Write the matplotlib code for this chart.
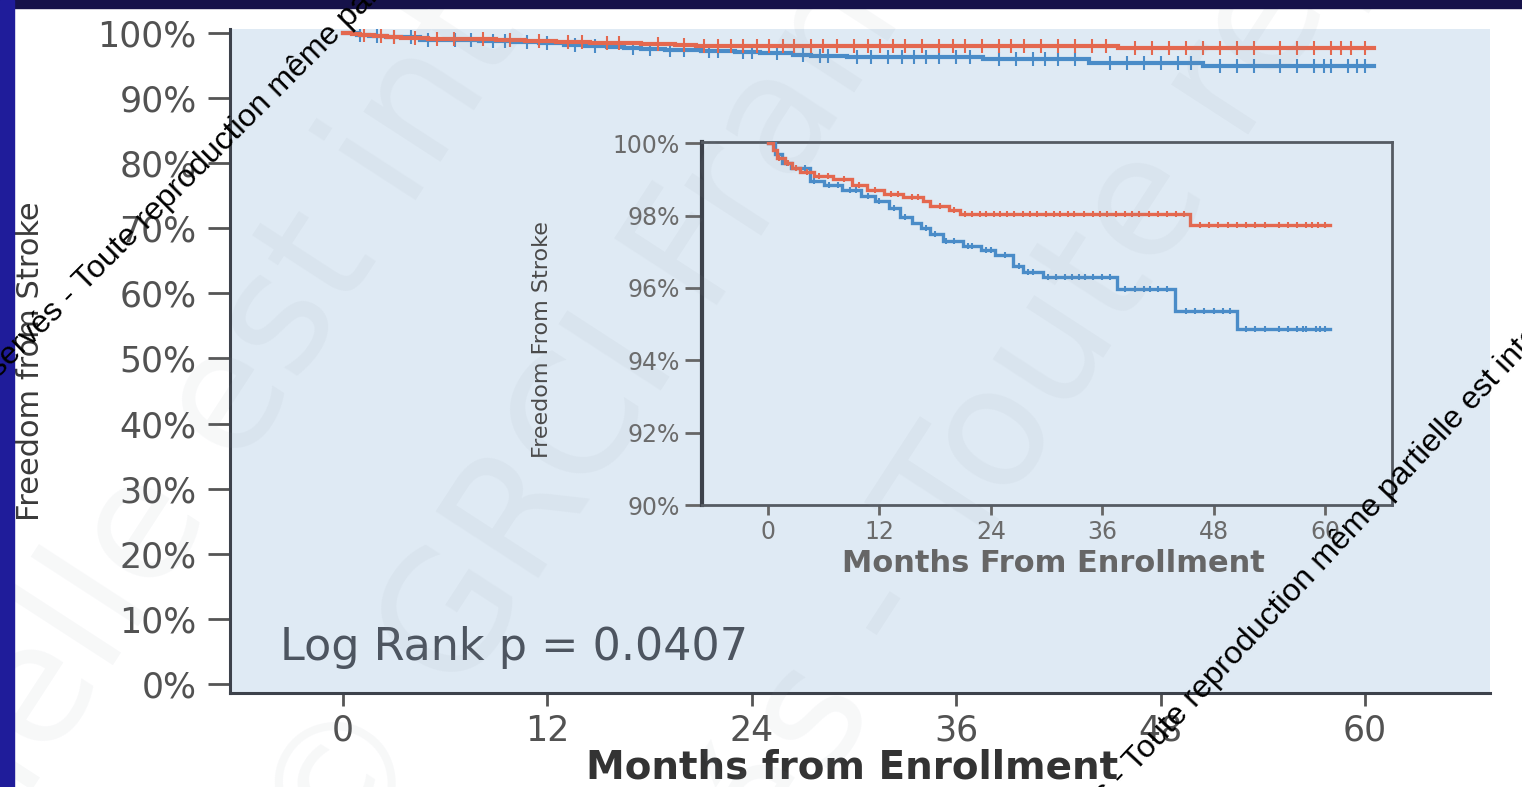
import numpy as np
import matplotlib
matplotlib.use("Agg")
from matplotlib import pyplot as plt
from matplotlib.patches import Rectangle

# Kaplan-Meier steps (months, % free from stroke)
red_t = [0, 0.5, 1.0, 1.8, 2.6, 3.4, 5.0, 7.0, 9.0, 10.7, 12.5, 14.5, 16.7, 17.5, 19.5, 20.7, 45.5]
red_s = [100, 99.8, 99.6, 99.45, 99.3, 99.2, 99.1, 99.0, 98.85, 98.7, 98.6, 98.5, 98.4, 98.25, 98.15, 98.05, 97.75]
blue_t = [0, 0.8, 1.5, 2.5, 4.5, 6.0, 8.0, 10.0, 11.5, 13.0, 14.2, 15.5, 16.5, 17.5, 18.9, 21.0, 23.0,
          24.5, 26.4, 27.5, 29.6, 37.6, 43.8, 50.5]
blue_s = [100, 99.7, 99.45, 99.3, 98.95, 98.85, 98.7, 98.55, 98.4, 98.2, 97.95, 97.8, 97.65, 97.5, 97.3,
          97.15, 97.05, 96.9, 96.6, 96.45, 96.3, 95.97, 95.35, 94.86]
t_end = 60.5

# censored observations (months)
red_cens = [1.2, 2.2, 3.0, 4.2, 5.5, 6.5, 8.2, 9.8, 11.5, 13.2, 14.0, 15.5, 16.2, 18.5, 20.0, 21.2, 22.0,
            22.8, 23.5, 24.3, 25.0, 25.8, 26.5, 27.5, 28.2, 29.0, 30.0, 30.8, 31.5, 32.3, 33.0, 34.0, 35.0,
            35.8, 36.5, 37.5, 38.5, 39.2, 40.0, 41.0, 42.0, 43.0, 44.0, 44.8, 46.5, 47.5, 48.5, 49.5, 50.5,
            51.5, 52.5, 53.5, 55.0, 56.0, 57.0, 58.0, 58.6, 59.2, 60.0]
blue_cens = [1.0, 2.0, 3.0, 4.0, 5.0, 6.6, 7.5, 8.8, 9.5, 10.8, 12.0, 13.6, 14.8, 17.0, 18.0, 19.2, 20.0,
             21.5, 22.0, 23.5, 24.0, 25.5, 27.0, 28.0, 28.5, 30.2, 31.0, 32.0, 32.8, 33.5, 34.2, 35.0,
             36.0, 36.8, 38.5, 39.5, 40.5, 41.2, 42.0, 43.0, 45.0, 46.0, 47.0, 48.0, 49.0, 49.8, 51.5,
             52.5, 53.5, 55.0, 56.0, 57.0, 57.6, 58.0, 59.0, 59.5, 60.0]

main_yticks = [0, 10, 20, 30, 40, 50, 60, 70, 80, 90, 100]
inset_yticks = [90, 92, 94, 96, 98, 100]
xticks = [0, 12, 24, 36, 48, 60]

RED = "#e4684f"
BLUE = "#4a8cc8"
BG = "#dfeaf4"
SPINE = "#3d424b"

wm_text = "Toute reproduction même partielle est interdite"
wm_prefix = "© GRCI France - Droits réservés - "


def km_curve(ax, t, s, cens, color, lw, ms, z):
    tt = list(t) + [t_end]
    ss = list(s) + [s[-1]]
    ax.step(tt, ss, where="post", color=color, lw=lw, zorder=z, solid_joinstyle="miter")
    idx = np.searchsorted(t, cens, side="right") - 1
    cy = np.array(s)[idx]
    ax.plot(cens, cy, ls="none", marker="|", ms=ms, mew=1.5, color=color, zorder=z)


fig = plt.figure(figsize=(15.22, 7.87), dpi=100)
fig.patch.set_facecolor("white")

# main panel
ax = fig.add_axes([0.1511, 0.1194, 0.8279, 0.8438])
ax.set_facecolor(BG)
for side in ["top", "right"]:
    ax.spines[side].set_visible(False)
for side in ["left", "bottom"]:
    ax.spines[side].set_color(SPINE)
    ax.spines[side].set_linewidth(2.2)
ax.set_xlim(-6.64, 67.34)
ax.set_ylim(-1.38, 100.6)
km_curve(ax, blue_t, blue_s, blue_cens, BLUE, 3, 10, 3)
km_curve(ax, red_t, red_s, red_cens, RED, 3, 10, 4)
ax.set_yticks(main_yticks)
ax.set_yticklabels([f"{v}%" for v in main_yticks])
ax.set_xticks(xticks)
ax.tick_params(axis="y", length=16, width=2, color="#555555", pad=8,
               labelsize=25, labelcolor="#525252")
ax.tick_params(axis="x", length=9, width=2, color="#555555", pad=6,
               labelsize=25, labelcolor="#525252")
ax.set_xlabel("Months from Enrollment", fontsize=28, fontweight="bold", color="#333333")
ax.xaxis.set_label_coords(0.494, -0.084)
ax.set_ylabel("Freedom from Stroke", fontsize=22, color="#3a3a3a")
ax.yaxis.set_label_coords(-0.147, 0.5)
ax.text(0.04, 0.05, "Log Rank p = 0.0407", transform=ax.transAxes,
        fontsize=32, color="#4d5560", va="baseline")

# zoomed inset
ins = fig.add_axes([0.4612, 0.3583, 0.4534, 0.4612])
ins.set_facecolor(BG)
for side in ["top", "right", "bottom"]:
    ins.spines[side].set_color("#555b63")
    ins.spines[side].set_linewidth(2)
ins.spines["left"].set_color(SPINE)
ins.spines["left"].set_linewidth(3)
ins.set_xlim(-7.11, 67.22)
ins.set_ylim(90, 100.03)
km_curve(ins, blue_t, blue_s, blue_cens, BLUE, 2.4, 5, 3)
km_curve(ins, red_t, red_s, red_cens, RED, 2.4, 5, 4)
ins.set_yticks(inset_yticks)
ins.set_yticklabels([f"{v}%" for v in inset_yticks])
ins.set_xticks(xticks)
ins.tick_params(axis="y", length=12, width=2, color="#666666", pad=4,
                labelsize=17, labelcolor="#6b6b6b")
ins.tick_params(axis="x", length=7, width=2, color="#666666", pad=4,
                labelsize=17, labelcolor="#6b6b6b")
ins.set_xlabel("Months From Enrollment", fontsize=22, fontweight="bold", color="#666666")
ins.xaxis.set_label_coords(0.509, -0.12)
ins.set_ylabel("Freedom From Stroke", fontsize=16, color="#4a4a4a")
ins.yaxis.set_label_coords(-0.217, 0.455)

# slide frame
fig.patches.append(Rectangle((0, 1 - 8 / 787), 1, 8 / 787, transform=fig.transFigure,
                             color="#16124a", zorder=10))
fig.patches.append(Rectangle((0, 0), 14 / 1522, 1, transform=fig.transFigure,
                             color="#1f1c9a", zorder=10))

# faint large watermark, split at the letters that land near each anchor
big_rows = [((240, 470), "même partielle ", "est interdite"),
            ((460, 700), "interdite © ", "GRCI France"),
            ((830, 780), "réservé", "s - Toute reproduction")]
for (px, py), before, after in big_rows:
    fx, fy = px / 1522, 1 - py / 787
    fig.text(fx, fy, after, rotation=57, fontsize=120, color="#8a96a4", alpha=0.07,
             ha="left", va="baseline", rotation_mode="anchor", zorder=5)
    fig.text(fx, fy, before, rotation=57, fontsize=120, color="#8a96a4", alpha=0.07,
             ha="right", va="baseline", rotation_mode="anchor", zorder=5)

# small black watermark
for (px, py, rot) in [(85, 292, 45), (1136, 772, 47)]:
    fx, fy = px / 1522, 1 - py / 787
    fig.text(fx, fy, wm_text, rotation=rot, fontsize=23, color="black",
             family=["Liberation Sans", "DejaVu Sans"], ha="left", va="baseline",
             rotation_mode="anchor", zorder=11)
    fig.text(fx, fy, wm_prefix, rotation=rot, fontsize=23, color="black",
             family=["Liberation Sans", "DejaVu Sans"], ha="right", va="baseline",
             rotation_mode="anchor", zorder=11)

fig.savefig("out.png", dpi=100)
